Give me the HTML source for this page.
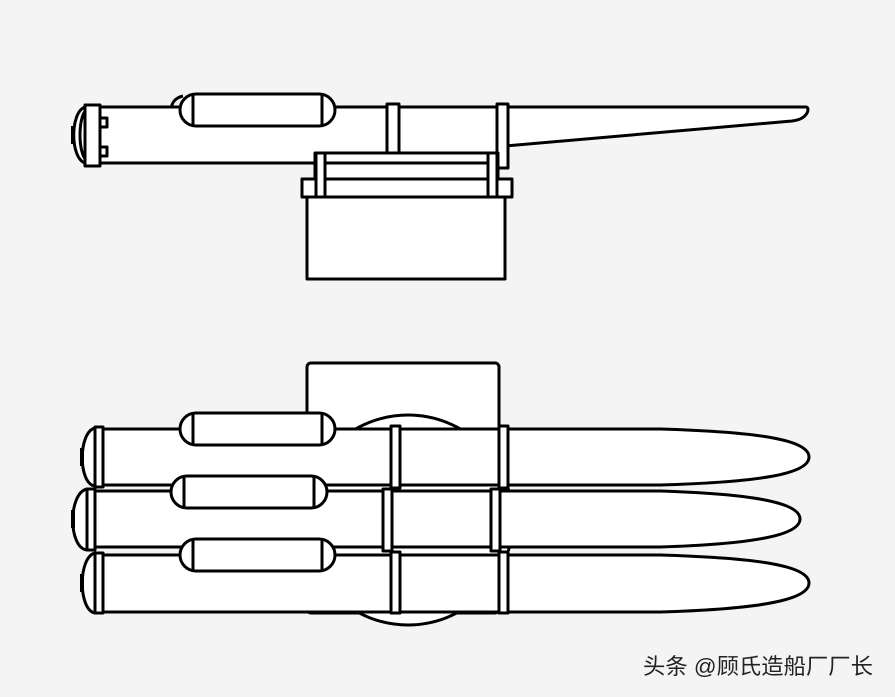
<!DOCTYPE html>
<html><head><meta charset="utf-8"><style>
html,body{margin:0;padding:0;background:#f4f4f4;}
svg{display:block}
</style></head><body>
<svg width="895" height="697" viewBox="0 0 895 697" xmlns="http://www.w3.org/2000/svg">
<rect width="895" height="697" fill="#f4f4f4"/>
<g fill="#fff" stroke="#000" stroke-width="3" stroke-linejoin="round">
<!-- TOP VIEW -->
<path d="M505 107 L806 107 C810 107 809 119 792 121 L505 146 Z"/>
<rect x="100" y="107" width="402" height="56"/>
<path d="M183 96 C174 98 172 104 171 108" fill="none"/>
<rect x="180" y="94" width="155" height="32" rx="16"/>
<line x1="193" y1="95" x2="193" y2="125"/>
<line x1="322" y1="95" x2="322" y2="125"/>
<rect x="387" y="104" width="12" height="58"/>
<rect x="497" y="104" width="11" height="64"/>
<path d="M85 107 C70 112 70 158 85 163" />
<path d="M86 110 C78 118 78 152 86 160" fill="none"/>
<path d="M73 126 L73 144" stroke-width="4"/>
<rect x="85" y="105" width="15" height="61"/>
<rect x="100" y="118" width="7" height="9"/>
<rect x="100" y="147" width="7" height="9"/>
<rect x="315" y="153" width="183" height="45"/>
<line x1="315" y1="163" x2="498" y2="163"/>
<rect x="302" y="179" width="210" height="18"/>
<rect x="316" y="153" width="9" height="44"/>
<rect x="488" y="153" width="9" height="44"/>
<rect x="307" y="197" width="198" height="82"/>

<!-- BOTTOM VIEW -->
<rect x="307" y="363" width="192" height="250" rx="4"/>
<circle cx="408" cy="520" r="105"/>
<!-- row 1 -->
<path d="M505 429 L660 429 C760 432 809 440 809 457 C809 474 760 482 660 485 L505 485 Z"/>
<rect x="98" y="429" width="408" height="56"/>
<rect x="180" y="413" width="155" height="32" rx="16"/>
<line x1="193" y1="414" x2="193" y2="444"/>
<line x1="322" y1="414" x2="322" y2="444"/>
<rect x="391" y="426" width="9" height="62"/>
<rect x="499" y="426" width="9" height="62"/>
<path d="M95 428 C78 432 78 484 95 486"/>
<path d="M82 448 L82 466" stroke-width="4"/>
<rect x="95" y="427" width="8" height="60"/>
<!-- row 2 -->
<path d="M495 491 L660 491 C755 494 800 503 800 519 C800 535 755 544 660 547 L495 547 Z"/>
<rect x="90" y="491" width="408" height="56"/>
<rect x="171" y="476" width="156" height="32" rx="16"/>
<line x1="184" y1="477" x2="184" y2="507"/>
<line x1="314" y1="477" x2="314" y2="507"/>
<rect x="383" y="489" width="9" height="62"/>
<rect x="491" y="489" width="9" height="62"/>
<path d="M87 489 C68 493 68 548 87 550"/>
<path d="M73 510 L73 528" stroke-width="4"/>
<rect x="87" y="489" width="8" height="61"/>
<!-- row 3 -->
<path d="M505 555 L660 555 C760 558 809 566 809 583 C809 600 760 609 660 612 L505 612 Z"/>
<rect x="98" y="555" width="408" height="57"/>
<rect x="180" y="539" width="155" height="32" rx="16"/>
<line x1="193" y1="540" x2="193" y2="570"/>
<line x1="322" y1="540" x2="322" y2="570"/>
<rect x="391" y="552" width="9" height="61"/>
<rect x="499" y="552" width="9" height="61"/>
<path d="M95 553 C78 557 78 610 95 613"/>
<path d="M82 574 L82 592" stroke-width="4"/>
<rect x="95" y="553" width="8" height="60"/>
</g>
<text x="873" y="674" text-anchor="end" textLength="230" lengthAdjust="spacingAndGlyphs" font-family="'Liberation Sans','Noto Sans CJK SC',sans-serif" font-size="22" fill="#222">头条 @顾氏造船厂厂长</text>
</svg>
</body></html>
